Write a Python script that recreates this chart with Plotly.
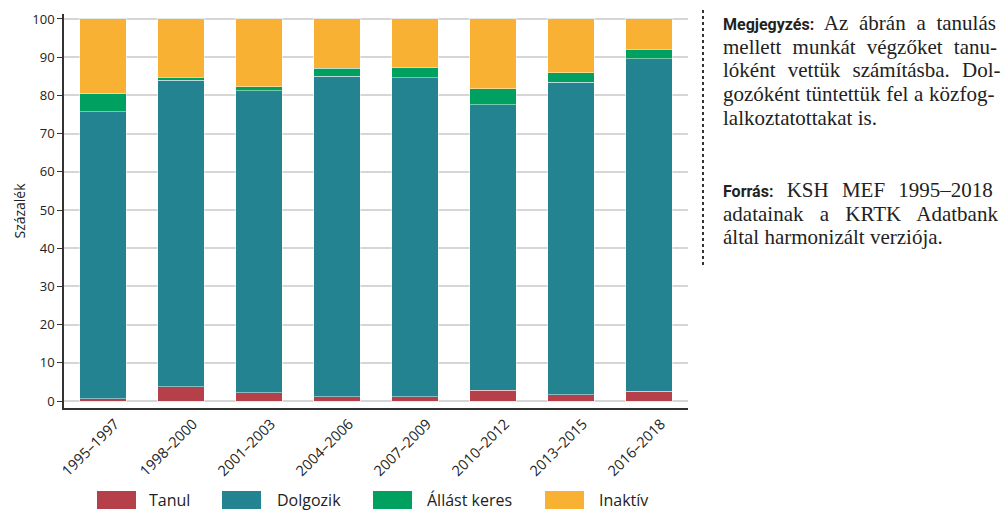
import plotly.graph_objects as go

categories = ["1995–1997", "1998–2000", "2001–2003", "2004–2006",
              "2007–2009", "2010–2012", "2013–2015", "2016–2018"]
tanul = [0.6, 3.7, 2.2, 1.2, 1.1, 2.9, 1.7, 2.6]
dolgozik = [75.1, 80.2, 79.0, 83.8, 83.5, 74.7, 81.8, 87.0]
allast_keres = [4.7, 0.9, 1.0, 2.1, 2.6, 4.2, 2.4, 2.5]
inaktiv = [19.6, 15.2, 17.8, 12.9, 12.8, 18.2, 14.1, 7.9]

series_names = ["Tanul", "Dolgozik", "Állást keres", "Inaktív"]
series_values = [tanul, dolgozik, allast_keres, inaktiv]
colors = ["#B5404A", "#238391", "#00A060", "#F8B133"]

W, H = 1003, 511
L, R, T, B = 64, 688, 14, 408

def px(x):
    return (x - L) / (R - L)

def py(y):
    return (B - y) / (B - T)

fig = go.Figure()
for name, vals, col in zip(series_names, series_values, colors):
    fig.add_trace(go.Bar(
        x=categories, y=vals, name=name,
        marker=dict(color=col, line=dict(color="rgba(255,255,255,0.45)", width=1)),
        width=0.6, showlegend=False,
    ))

sans = "Open Sans, Noto Sans, sans-serif"

fig.update_layout(
    barmode="stack",
    width=W, height=H,
    margin=dict(l=L, r=W - R, t=T, b=H - B, autoexpand=False),
    plot_bgcolor="white", paper_bgcolor="white",
    xaxis=dict(
        showline=True, linecolor="#333", linewidth=1.5,
        ticks="", tickangle=-45, tickfont=dict(family=sans, size=14.5, color="#222"),
        ticklabelshift=12,
        showgrid=False,
    ),
    yaxis=dict(
        range=[-1.8, 101.3],
        tickvals=[0, 10, 20, 30, 40, 50, 60, 70, 80, 90, 100],
        showline=True, linecolor="#333", linewidth=1.5,
        ticks="outside", ticklen=5, tickcolor="#333", tickwidth=1.2,
        tickfont=dict(family=sans, size=13, color="#222"),
        showgrid=True, gridcolor="#d6d6d6", gridwidth=1.5,
        zeroline=False,
        title=dict(text="Százalék", font=dict(family=sans, size=14, color="#222"), standoff=3),
    ),
)

shapes = []
annotations = []

# custom legend
legend_items = [(97, 147), (222, 275), (373, 425), (545, 597)]
for (bx, tx), name, col in zip(legend_items, series_names, colors):
    shapes.append(dict(type="rect", xref="paper", yref="paper",
                       x0=px(bx), x1=px(bx + 39), y0=py(509), y1=py(491),
                       fillcolor=col, line=dict(width=0)))
    annotations.append(dict(text=name, xref="paper", yref="paper",
                            x=px(tx), y=py(500), xanchor="left", yanchor="middle",
                            showarrow=False,
                            font=dict(family=sans, size=16, color="#222")))

# dotted separator
shapes.append(dict(type="line", xref="paper", yref="paper",
                   x0=px(703), x1=px(703), y0=py(10), y1=py(265),
                   line=dict(color="#333", width=2, dash="dot")))

serif = dict(family="Liberation Serif, DejaVu Serif, serif", size=21, color="#222")
bold_sans = "font-family:'Liberation Sans Narrow', 'Roboto', sans-serif;font-weight:bold;font-size:16px"
note_lines = [
    (f"<span style=\"{bold_sans}\">Megjegyzés:</span> Az ábrán a tanulás", 5.5),
    ("mellett munkát végzőket tanu-", 6),
    ("lóként vettük számításba. Dol-", 7),
    ("gozóként tüntettük fel a közfog-", 0.5),
    ("lalkoztatottakat is.", 0),
]
src_lines = [
    (f"<span style=\"{bold_sans}\">Forrás:</span> KSH MEF 1995–2018", 8),
    ("adatainak a KRTK Adatbank", 11),
    ("által harmonizált verziója.", 0),
]

def styled(t, ws):
    if ws:
        return f"<span style=\"word-spacing:{ws}px\">{t}</span>"
    return t

for i, (t, ws) in enumerate(note_lines):
    annotations.append(dict(text=styled(t, ws), xref="paper", yref="paper",
                            x=px(721), y=py(23 + i * 23.7), xanchor="left", yanchor="middle",
                            showarrow=False, font=serif))
for i, (t, ws) in enumerate(src_lines):
    annotations.append(dict(text=styled(t, ws), xref="paper", yref="paper",
                            x=px(721), y=py(190 + i * 23.7), xanchor="left", yanchor="middle",
                            showarrow=False, font=serif))

fig.update_layout(shapes=shapes, annotations=annotations)
fig.write_html("out.html", config={"displayModeBar": False},
               post_script="document.body.style.margin='0';document.body.style.padding='0';")
